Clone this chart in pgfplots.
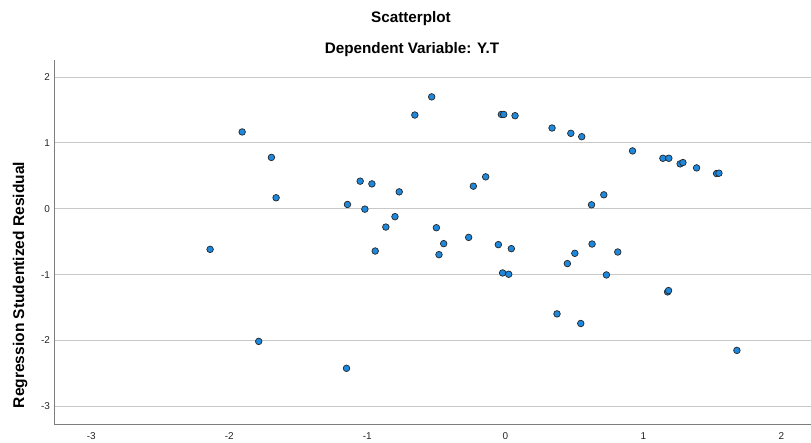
\documentclass[border=0pt]{standalone}
\usepackage{fontspec}
\setmainfont{Liberation Sans}
\usepackage{pgfplots}
\pgfplotsset{compat=1.18}
\definecolor{ptfill}{RGB}{30,136,220}
\definecolor{gridc}{RGB}{200,200,200}
\definecolor{axc}{RGB}{125,125,125}
\pgfplotstableread{
x y
-1.907 1.167
-1.695 0.780
-1.661 0.167
-2.139 -0.617
-0.534 1.700
-0.656 1.424
-1.052 0.419
-0.967 0.378
-0.769 0.257
-1.144 0.065
-1.018 -0.006
-0.800 -0.120
-0.866 -0.278
-0.500 -0.288
-0.232 0.343
-0.266 -0.435
-0.447 -0.530
-0.943 -0.642
-0.481 -0.697
-0.029 1.433
-0.012 1.433
0.070 1.414
0.338 1.227
0.474 1.146
0.553 1.095
0.921 0.879
1.141 0.767
1.184 0.767
1.266 0.682
1.286 0.702
1.385 0.621
1.530 0.535
1.547 0.540
-0.143 0.485
0.713 0.212
0.624 0.060
-0.051 -0.545
0.043 -0.606
0.628 -0.536
0.503 -0.677
0.814 -0.657
0.449 -0.833
-0.020 -0.975
0.024 -0.995
0.732 -1.005
1.175 -1.263
1.182 -1.243
0.374 -1.597
0.546 -1.743
1.677 -2.152
-1.787 -2.015
-1.151 -2.424
}\datatable
\begin{document}
\begin{tikzpicture}
\path[use as bounding box] (-54bp,-19bp) rectangle (757bp,424bp);
\begin{axis}[
  at={(0,0)}, anchor=south west,
  scale only axis, width=757bp, height=364bp,
  xmin=-3.27, xmax=2.214, ymin=-3.27, ymax=2.26,
  axis x line=bottom, axis y line=left,
  axis line style={draw=axc, line width=0.9bp, -},
  xtick={-3,-2,-1,0,1,2}, ytick={-3,-2,-1,0,1,2},
  major tick length=0pt,
  ymajorgrids, grid style={draw=gridc, line width=1bp},
  /pgf/number format/assume math mode=true,
  tick label style={font=\fontsize{10}{11}\selectfont, text=black!85},
  xticklabel style={yshift=-5bp},
  yticklabel style={xshift=-0.5bp},
  clip=false,
]
\addplot[only marks, mark=*, mark size=3.3bp,
  mark options={fill=ptfill, draw=black!85, line width=0.7bp}]
  table[x=x, y=y] {\datatable};
\end{axis}
\node[anchor=base, font=\bfseries\fontsize{15.3}{16}\selectfont] at (357bp,401.3bp) {Scatterplot};
\node[anchor=base, font=\bfseries\fontsize{15.3}{16}\selectfont] at (358bp,370.5bp) {Dependent Variable: Y.T};
\node[rotate=90, anchor=base, font=\bfseries\fontsize{15.6}{16}\selectfont] at (-30bp,139bp) {Regression Studentized Residual};
\end{tikzpicture}
\end{document}
